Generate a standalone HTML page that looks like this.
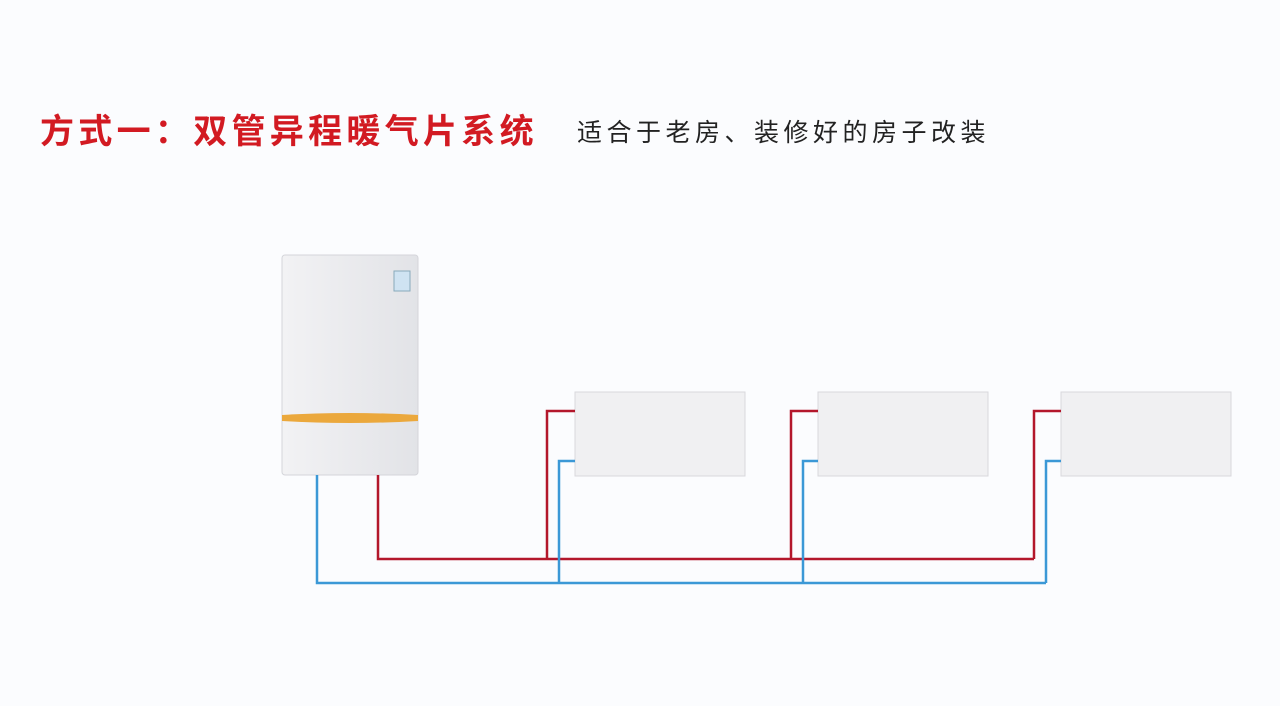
<!DOCTYPE html>
<html><head><meta charset="utf-8"><style>
body{margin:0;width:1280px;height:706px;background:#fbfcfe;overflow:hidden;position:relative;font-family:"Liberation Sans","Noto Sans CJK SC",sans-serif}
.t{position:absolute;left:40px;top:104px;font-size:34px;font-weight:bold;color:#d21a22;letter-spacing:4.3px;white-space:nowrap}
.s{position:absolute;left:577px;top:113px;font-size:25px;color:#222;letter-spacing:4.5px;white-space:nowrap}
</style></head><body>
<div class="t">方式一：双管异程暖气片系统</div>
<div class="s">适合于老房、装修好的房子改装</div>
<svg width="1280" height="706" style="position:absolute;left:0;top:0">
<defs><linearGradient id="g" x1="0" x2="1"><stop offset="0" stop-color="#f2f2f4"/><stop offset="1" stop-color="#e2e3e7"/></linearGradient></defs>
<rect x="282" y="255" width="136" height="220" rx="3" fill="url(#g)" stroke="#d4d5da"/>
<rect x="394" y="271" width="16" height="20" fill="#cfe3f2" stroke="#8ab"/>
<path d="M282 415 Q350 411 418 415 L418 421 Q350 425 282 421Z" fill="#eba83c"/>
<rect x="575" y="392" width="170" height="84" fill="#f0f0f2" stroke="#d8d8dc"/>
<rect x="818" y="392" width="170" height="84" fill="#f0f0f2" stroke="#d8d8dc"/>
<rect x="1061" y="392" width="170" height="84" fill="#f0f0f2" stroke="#d8d8dc"/>
<g fill="none" stroke-width="2.5">
<path d="M378 475V559H1034M547 559V411H575M791 559V411H818M1034 559V411H1061" stroke="#b3172b"/>
<path d="M317 475V583H1046M559 583V461H575M803 583V461H818M1046 583V461H1061" stroke="#3b98d6"/>
</g>
</svg>
</body></html>
